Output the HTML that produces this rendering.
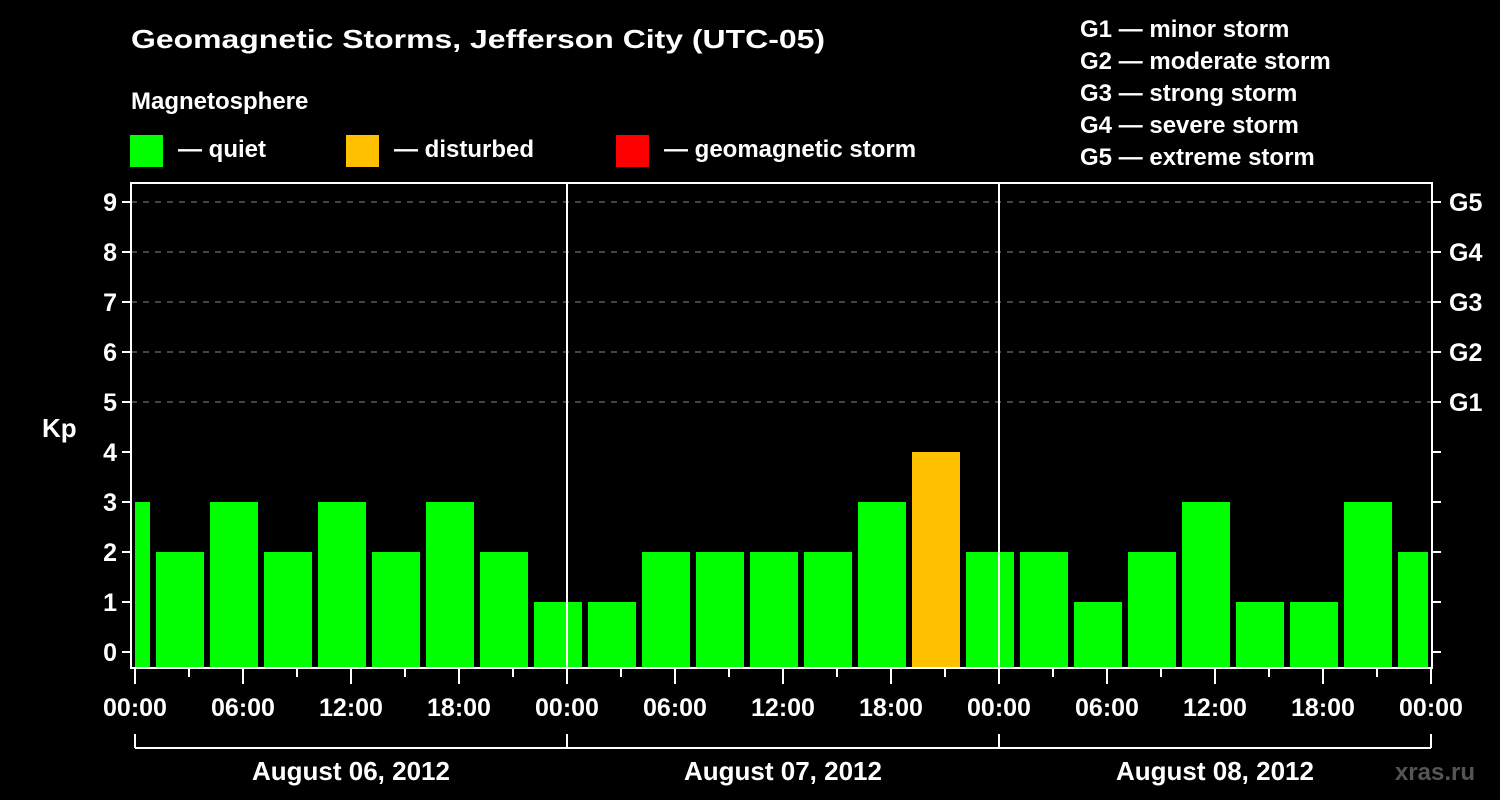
<!DOCTYPE html>
<html><head><meta charset="utf-8"><style>
html,body{margin:0;padding:0;background:#000;}
svg{display:block;}
text{font-family:"Liberation Sans",Arial,sans-serif;font-weight:bold;fill:#fff;}
</style></head><body>
<svg id="chart" width="1500" height="800">
<rect width="1500" height="800" fill="#000"/>
<text x="131" y="48" font-size="26" textLength="694" lengthAdjust="spacingAndGlyphs">Geomagnetic Storms, Jefferson City (UTC-05)</text>
<text x="131" y="109" font-size="24">Magnetosphere</text>
<g><rect x="130" y="135" width="33" height="32" fill="#00ff00"/><text x="178" y="157" font-size="24">— quiet</text></g>
<g><rect x="346" y="135" width="33" height="32" fill="#ffc000"/><text x="394" y="157" font-size="24">— disturbed</text></g>
<g><rect x="616" y="135" width="33" height="32" fill="#ff0000"/><text x="664" y="157" font-size="24">— geomagnetic storm</text></g>
<g font-size="24">
<text x="1080" y="37">G1 — minor storm</text>
<text x="1080" y="69">G2 — moderate storm</text>
<text x="1080" y="101">G3 — strong storm</text>
<text x="1080" y="133">G4 — severe storm</text>
<text x="1080" y="165">G5 — extreme storm</text>
</g>
<text x="42" y="437" font-size="26">Kp</text>
<text x="1475" y="780" font-size="24" fill="#555" style="fill:#555" text-anchor="end">xras.ru</text>
<g id="plot"></g>
</svg>
<script>
const kpValues = [3,2,3,2,3,2,3,2,1,1,2,2,2,2,3,4,2,2,1,2,3,1,1,3,2];
const barStartHours = [-2,1,4,7,10,13,16,19,22,25,28,31,34,37,40,43,46,49,52,55,58,61,64,67,70];
const xTickLabels = ["00:00","06:00","12:00","18:00","00:00","06:00","12:00","18:00","00:00","06:00","12:00","18:00","00:00"];
const dayLabels = ["August 06, 2012","August 07, 2012","August 08, 2012"];
const gLabels = ["G1","G2","G3","G4","G5"];

const NS="http://www.w3.org/2000/svg";
const g=document.getElementById('plot');
const L=131,R=1432,T=183,B=668;
const x=h=>135+h*18;
const y=v=>652-v*50;
function mk(tag,attrs,parent){const e=document.createElementNS(NS,tag);for(const k in attrs)e.setAttribute(k,attrs[k]);(parent||g).appendChild(e);return e;}

// gridlines
for(let v=5;v<=9;v++){
  const l=mk('line',{x1:L,x2:R,y1:y(v),y2:y(v),stroke:'#888','stroke-dasharray':'6,6','stroke-width':1});
  
  
}
// bars
kpValues.forEach((v,i)=>{
  let x0=Math.max(x(barStartHours[i])+3,x(0));
  let x1=Math.min(x(barStartHours[i]+3)-3,1428);
  const col=v>=5?'#ff0000':(v>=4?'#ffc000':'#00ff00');
  const r=mk('rect',{x:x0,y:y(v),width:x1-x0,height:B-y(v),fill:col});
  
  
});
// day separators
[24,48].forEach(h=>{
  const l=mk('line',{x1:x(h),x2:x(h),y1:T,y2:B,stroke:'#fff','stroke-width':2});
  
  
});
// frame
const fr=mk('rect',{x:L,y:T,width:R-L,height:B-T,fill:'none',stroke:'#fff','stroke-width':2});


// y ticks and labels
for(let v=0;v<=9;v++){
  mk('line',{x1:L-9,x2:L,y1:y(v),y2:y(v),stroke:'#fff','stroke-width':2});
  mk('line',{x1:R,x2:R+9,y1:y(v),y2:y(v),stroke:'#fff','stroke-width':2});
  const t=mk('text',{x:L-14,y:y(v)+9,'font-size':25,'text-anchor':'end'});
  t.textContent=v;
  
  
}
gLabels.forEach((s,i)=>{
  const t=mk('text',{x:R+17,y:y(i+5)+9,'font-size':25});
  t.textContent=s;
  
  
});
// x ticks
for(let h=0;h<=72;h+=3){
  const major=h%6===0;
  mk('line',{x1:x(h),x2:x(h),y1:B,y2:B+(major?16:9),stroke:'#fff','stroke-width':2});
}
xTickLabels.forEach((s,i)=>{
  const t=mk('text',{x:x(i*6),y:716,'font-size':25,'text-anchor':'middle'});
  t.textContent=s;
  
  
});
// day bracket
mk('line',{x1:x(0),x2:x(72),y1:748,y2:748,stroke:'#fff','stroke-width':2});
[0,24,48,72].forEach(h=>mk('line',{x1:x(h),x2:x(h),y1:734,y2:748,stroke:'#fff','stroke-width':2}));
dayLabels.forEach((s,i)=>{
  const t=mk('text',{x:x(i*24+12),y:780,'font-size':26,'text-anchor':'middle'});
  t.textContent=s;
  
  
});
</script>
</body></html>
